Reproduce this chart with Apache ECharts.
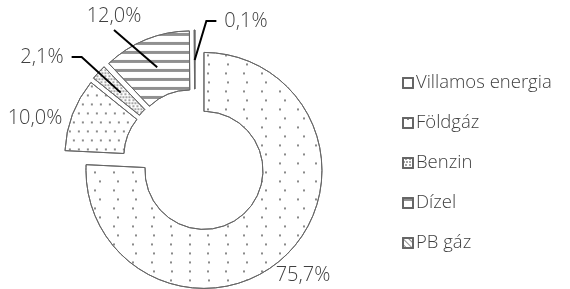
<!DOCTYPE html>
<html>
<head>
<meta charset="utf-8">
<script src="https://cdn.jsdelivr.net/npm/echarts@6/dist/echarts.min.js"></script>
<style>
    html, body { margin: 0; padding: 0; background: #fff; }
    #chart { width: 570px; height: 289px; }
</style>
</head>
<body>
<div id="chart"></div>
<script>
// adatok
const categories = ['Villamos energia', 'Földgáz', 'Benzin', 'Dízel', 'PB gáz'];
const shares = [75.7, 10.0, 2.1, 12.0, 0.1];

const FONT = 'Open Sans';
const TEXT = '#404040';
const center = [195, 161];

// minták (decal) szeletenként
const decals = [
    { symbol: 'rect', color: '#8a8a8a', dashArrayX: [[1.4, 15.6], [0, 8.5, 1.4, 7.1]], dashArrayY: [1.4, 6.9] },
    { symbol: 'rect', color: '#8a8a8a', dashArrayX: [[1.5, 6.5], [0, 4, 1.5, 2.5]], dashArrayY: [1.5, 6.8] },
    { symbol: 'circle', color: '#8a8a8a', symbolSize: 1, dashArrayX: [[2, 1], [0, 1.5, 2, -0.5]], dashArrayY: [2, 0.8] },
    { symbol: 'rect', color: '#909090', dashArrayX: [1, 0], dashArrayY: [2.4, 5.9] },
    { symbol: 'rect', color: '#909090', dashArrayX: [1, 0], dashArrayY: [1, 2.5], rotation: Math.PI / 4 }
];

// címkék helye (szöveg közepe), vezetővonal iránya: 0 nincs, 1 jobbra, -1 balra, 2 alul
const labelPos = [[303, 275], [35, 118], [42, 57], [114, 16], [246, 21]];
const lineSide = [0, 0, 1, 2, -1];

let chart = echarts.init(document.getElementById('chart'));

let ringData = categories.map((name, i) => ({
    name: name,
    value: shares[i],
    selected: true,
    itemStyle: { color: '#fff', borderColor: '#666', borderWidth: 1, decal: decals[i] }
}));

let labelData = categories.map((name, i) => ({
    name: name,
    value: shares[i],
    labelLine: { show: lineSide[i] !== 0 }
}));

function placeLabel(p) {
    const i = p.dataIndex;
    const [cx, cy] = labelPos[i];
    const w = p.labelRect.width, h = p.labelRect.height;
    const res = { x: cx, y: cy, align: 'center', verticalAlign: 'middle' };
    const start = p.labelLinePoints && p.labelLinePoints[0];
    if (start && lineSide[i] !== 0) {
        if (lineSide[i] === 2) {
            res.labelLinePoints = [start, [cx, cy + h / 2 + 4], [cx, cy + h / 2 + 4]];
        } else {
            const s = lineSide[i];
            const endX = cx + s * (w / 2 + 8);
            res.labelLinePoints = [start, [endX + s * 10, cy], [endX, cy]];
        }
    }
    return res;
}

let option = {
    animation: false,
    legend: {
        orient: 'vertical',
        left: 397,
        top: 68,
        padding: 5,
        itemWidth: 10,
        itemHeight: 10,
        itemGap: 20,
        icon: 'rect',
        data: categories,
        textStyle: { fontFamily: FONT, fontSize: 18.5, fontWeight: 300, color: TEXT, lineHeight: 20, padding: [0, 0, 0, -2] }
    },
    series: [
        {
            type: 'pie',
            center: center,
            radius: [59, 118],
            startAngle: 90,
            clockwise: true,
            selectedMode: 'multiple',
            selectedOffset: 13,
            silent: true,
            label: { show: false },
            labelLine: { show: false },
            data: ringData
        },
        {
            // láthatatlan belső kör: csak a címkék és a vonalak
            type: 'pie',
            z: 3,
            center: center,
            radius: [0, 101],
            startAngle: 90,
            clockwise: true,
            silent: true,
            legendHoverLink: false,
            itemStyle: { color: 'rgba(0,0,0,0)', borderWidth: 0 },
            label: {
                show: true,
                position: 'outside',
                fontFamily: FONT,
                fontSize: 20,
                fontWeight: 300,
                color: TEXT,
                formatter: p => p.value.toFixed(1).replace('.', ',') + '%'
            },
            labelLine: { length: 20, length2: 10, lineStyle: { color: '#000', width: 2 } },
            labelLayout: placeLabel,
            data: labelData
        }
    ]
};
chart.setOption(option);
</script>
</body>
</html>
